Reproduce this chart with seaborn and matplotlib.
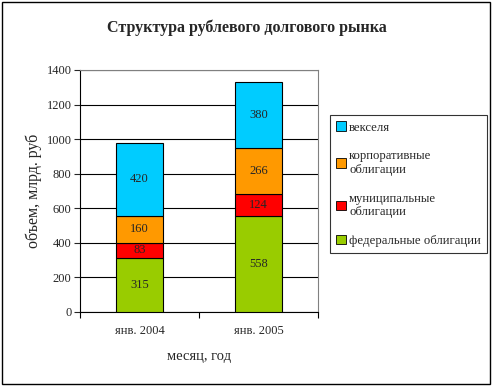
import matplotlib
matplotlib.use("Agg")
import matplotlib.pyplot as plt
import seaborn as sns
import numpy as np
import pandas as pd
from matplotlib.patches import Patch, Rectangle

categories = ["янв. 2004", "янв. 2005"]
federal = [315, 558]
municipal = [83, 124]
corporate = [160, 266]
veksel = [420, 380]
series_names = ["федеральные облигации", "муниципальные\nоблигации", "корпоративные\nоблигации", "векселя"]
colors = ["#99CC00", "#FF0000", "#FF9900", "#00CCFF"]

sns.set_style("white")
plt.rcParams['font.family'] = ['Liberation Serif', 'DejaVu Serif']

fig = plt.figure(figsize=(4.93, 3.86), dpi=100)
ax = fig.add_axes([80/493, 1-312/386, 238/493, 242/386])

layers = [federal, municipal, corporate, veksel]
bottom = np.zeros(len(categories))
for vals, col in zip(layers, colors):
    df = pd.DataFrame({"cat": categories, "val": vals})
    sns.barplot(data=df, x="cat", y="val", color=col, bottom=bottom, width=0.4,
                edgecolor="black", linewidth=0.8, ax=ax, saturation=1, zorder=3)
    for i, v in enumerate(vals):
        ax.text(i, bottom[i] + v/2, str(v), ha="center", va="center", fontsize=9, zorder=4)
    bottom = bottom + np.array(vals)

ax.set_ylim(0, 1400)
ax.set_xlim(-0.5, 1.5)
ax.set_yticks(range(0, 1401, 200))
ax.yaxis.grid(True, color="black", linewidth=0.8, zorder=0)
ax.set_axisbelow(True)
for s in ["top", "right"]:
    ax.spines[s].set_color("#808080")
    ax.spines[s].set_linewidth(0.8)
for s in ["left", "bottom"]:
    ax.spines[s].set_color("black")
    ax.spines[s].set_linewidth(0.8)
ax.set_xticks([-0.5, 0.5, 1.5], minor=False)
ax.set_xticklabels([])
ax.set_xticks([0, 1], minor=True)
ax.set_xticklabels(categories, minor=True, fontsize=9)
ax.tick_params(axis="x", which="major", direction="out", length=4, width=0.8, color="black", bottom=True)
ax.tick_params(axis="x", which="minor", length=0, pad=9, bottom=True)
ax.tick_params(axis="y", direction="out", length=4, width=0.8, left=True, labelsize=9, pad=2)
ax.set_xlabel("месяц, год", fontsize=10.5, labelpad=10)
ax.set_ylabel("объем, млрд. руб", fontsize=11.5, labelpad=3)

fig.text(0.5, 1-28/386, "Структура рублевого долгового рынка", ha="center", va="center",
         fontsize=11.5, fontweight="bold")

handles = [Patch(facecolor=c, edgecolor="black", linewidth=0.6) for c in colors]
order = [3, 2, 1, 0]
leg = fig.legend([handles[i] for i in order], [series_names[i] for i in order],
                 loc="upper left", bbox_to_anchor=(330/493, 1-115/386), bbox_transform=fig.transFigure,
                 fontsize=9.2, frameon=True, fancybox=False, edgecolor="black",
                 handlelength=0.75, handleheight=0.75, handletextpad=0.25, labelspacing=1.3,
                 borderpad=0.5, borderaxespad=0)
leg.get_frame().set_linewidth(0.8)

fig.patches.append(Rectangle((0.004, 0.004), 0.99, 0.99, transform=fig.transFigure,
                             fill=False, edgecolor="black", linewidth=1))

fig.savefig("out.png", dpi=100)
